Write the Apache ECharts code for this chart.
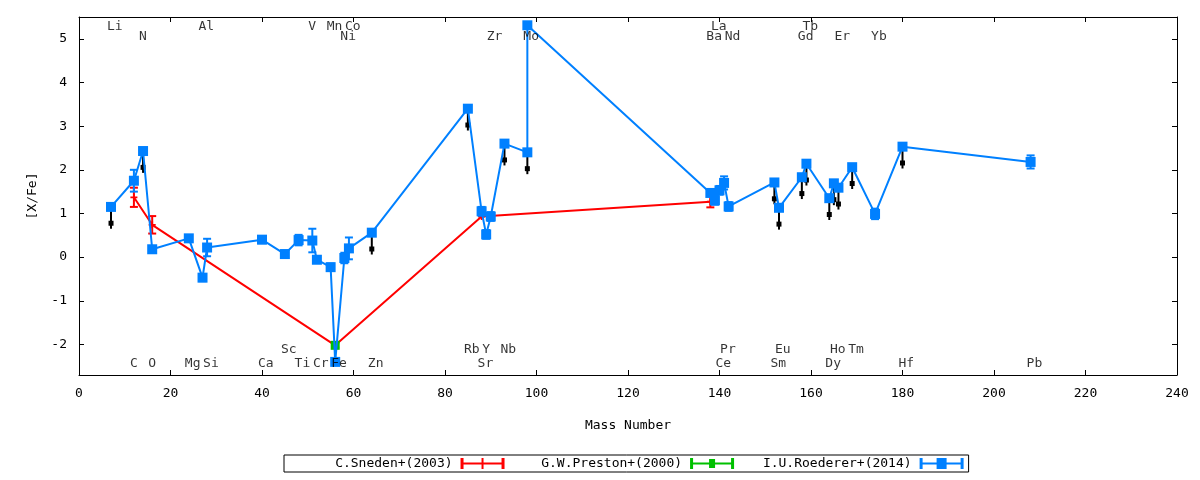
<!DOCTYPE html>
<html>
<head>
<meta charset="utf-8">
<script src="https://cdn.jsdelivr.net/npm/echarts@6/dist/echarts.min.js"></script>
<style>
html,body{margin:0;padding:0;background:#fff;}
#chart{width:1200px;height:480px;}
</style>
</head>
<body>
<div id="chart"></div>
<script>
// ---------- data ----------
// I.U.Roederer+(2014)
const blueMass = [7,12,14,16,24,27,28,40,45,48,51,52,55,56,58,59,64,85,88,89,90,93,98,98,138,139,140,141,142,152,153,158,159,164,165,166,169,174,180,208];
const blueVal  = [1.15,1.75,2.43,0.18,0.43,-0.47,0.22,0.40,0.07,0.39,0.38,-0.06,-0.23,-2.40,-0.02,0.20,0.56,3.40,1.05,0.52,0.93,2.60,2.40,5.31,1.47,1.30,1.53,1.70,1.16,1.71,1.13,1.83,2.14,1.35,1.69,1.59,2.06,0.99,2.53,2.18];
const blueErr  = [0,0.25,0,0.05,0.07,0.08,0.20,0.08,0.08,0.12,0.27,0.05,0.08,0.05,0.12,0.25,0,0,0.10,0.10,0.10,0,0,0,0.05,0.10,0.10,0.15,0.10,0,0,0,0,0,0,0,0,0.12,0,0.15];
const blueUpperLimit = [1,0,1,0,0,0,0,0,0,0,0,0,0,0,0,0,1,1,0,0,0,1,1,0,0,0,0,0,0,1,1,1,1,1,1,1,1,0,1,0];
// C.Sneden+(2003)
const redMass = [12,16,56,88,138];
const redVal  = [1.37,0.74,-2.02,0.93,1.27];
const redErr  = [0.22,0.20,0,0,0.13];
// G.W.Preston+(2000)
const greenMass = [56];
const greenVal  = [-2.02];
const greenErr  = [0.05];
// element labels: name, mass number, row (0,1 = top rows; 2,3 = bottom rows)
const elemNames  = ['Li','Al','V','Mn','Co','La','Tb',
                    'N','Ni','Zr','Mo','Ba','Nd','Gd','Er','Yb',
                    'Sc','Rb','Y','Nb','Pr','Eu','Ho','Tm',
                    'C','O','Mg','Si','Ca','Ti','Cr','Fe','Zn','Sr','Ce','Sm','Dy','Hf','Pb'];
const elemMass   = [7,27,51,55,59,139,159,
                    14,58,90,98,138,142,158,166,174,
                    45,85,89,93,141,153,165,169,
                    12,16,24,28,40,48,52,56,64,88,140,152,164,180,208];
const elemRow    = [0,0,0,0,0,0,0,
                    1,1,1,1,1,1,1,1,1,
                    2,2,2,2,2,2,2,2,
                    3,3,3,3,3,3,3,3,3,3,3,3,3,3,3];
const xTicks = {min:0, max:240, step:20};
const yRange = {min:-2.7, max:5.5};
const seriesNames = ['C.Sneden+(2003)','G.W.Preston+(2000)','I.U.Roederer+(2014)'];

// ---------- style constants ----------
const FONT = '"DejaVu Sans Mono", "Liberation Mono", monospace';
const RED = '#ff0000', GREEN = '#00c000', BLUE = '#0080ff';
const ROW_Y = [5.27, 5.04, -2.13, -2.45];   // label row placement (axis units)
const LIMIT_ARROW = 0.5;                     // length of upper-limit arrows

const pairs = (m, v) => m.map((x, i) => [x, v[i]]);
const errData = (m, v, e) => m.map((x, i) => [x, v[i], e[i]]).filter(d => d[2] > 0);

function errRender(color) {
  return function (params, api) {
    const x = api.value(0), v = api.value(1), e = api.value(2);
    const t = api.coord([x, v + e]), b = api.coord([x, v - e]);
    const hw = 4;
    const style = {stroke: color, lineWidth: 2};
    return {type: 'group', children: [
      {type: 'line', shape: {x1: t[0], y1: t[1], x2: b[0], y2: b[1]}, style},
      {type: 'line', shape: {x1: t[0] - hw, y1: t[1], x2: t[0] + hw, y2: t[1]}, style},
      {type: 'line', shape: {x1: b[0] - hw, y1: b[1], x2: b[0] + hw, y2: b[1]}, style}
    ]};
  };
}
function arrowRender(params, api) {
  const x = api.value(0), v = api.value(1);
  const s = api.coord([x, v]), e = api.coord([x, v - LIMIT_ARROW]);
  return {type: 'group', children: [
    {type: 'line', shape: {x1: s[0], y1: s[1], x2: e[0], y2: e[1]}, style: {stroke: '#000', lineWidth: 2}},
    {type: 'rect', shape: {x: e[0] - 2.5, y: e[1] - 8, width: 5, height: 5}, style: {fill: '#000'}}
  ]};
}

const limitData = blueMass.map((x, i) => [x, blueVal[i]]).filter((d, i) => blueUpperLimit[i]);
const labelData = elemNames.map((n, i) => ({value: [elemMass[i], ROW_Y[elemRow[i]]], name: n}));

const plusPath = 'path://M3,0h2v8h-2z M0,3h8v2h-8z';
const iconRed   = 'path://M0,0h3v11h-3z M0,4.5h44v2h-44z M41,0h3v11h-3z M21,0h2v11h-2z';
const iconGreen = 'path://M0,0h3v11h-3z M0,4.5h44v2h-44z M41,0h3v11h-3z M19,1h6v9h-6z';
const iconBlue  = 'path://M0,0h3v11h-3z M0,4.5h44v2h-44z M41,0h3v11h-3z M17,0h10v11h-10z';

const axisCommon = {
  axisLine: {show: true, onZero: false, lineStyle: {color: '#000', width: 1}},
  axisTick: {show: true, inside: true, length: 5, lineStyle: {color: '#000'}},
  splitLine: {show: false}
};
const labelStyle = {color: '#000', fontFamily: FONT, fontSize: 13};

const chart = echarts.init(document.getElementById('chart'), null, {renderer: 'canvas'});
chart.setOption({
  animation: false,
  backgroundColor: '#fff',
  textStyle: {fontFamily: FONT},
  grid: {left: 79, right: 23, top: 17, bottom: 105, containLabel: false},
  xAxis: [
    Object.assign({type: 'value', position: 'bottom', min: xTicks.min, max: xTicks.max, interval: xTicks.step,
      axisLabel: Object.assign({margin: 12}, labelStyle),
      name: 'Mass Number', nameLocation: 'middle', nameGap: 44, nameTextStyle: labelStyle}, axisCommon),
    Object.assign({type: 'value', position: 'top', min: xTicks.min, max: xTicks.max, interval: xTicks.step,
      axisLabel: {show: false}}, axisCommon)
  ],
  yAxis: [
    Object.assign({type: 'value', position: 'left', min: yRange.min, max: yRange.max, splitNumber: 8,
      axisLabel: Object.assign({margin: 12, showMinLabel: false, showMaxLabel: false}, labelStyle),
      name: '[X/Fe]', nameLocation: 'middle', nameGap: 40, nameRotate: 90, nameTextStyle: labelStyle}, axisCommon),
    Object.assign({type: 'value', position: 'right', min: yRange.min, max: yRange.max, splitNumber: 8,
      axisLabel: {show: false}}, axisCommon)
  ],
  legend: {
    left: 284, top: 455,
    orient: 'horizontal',
    align: 'right',
    itemWidth: 44, itemHeight: 11, itemGap: 21,
    padding: [2, 5, 2, 12],
    borderColor: '#000', borderWidth: 1,
    selectedMode: false,
    formatter: name => name.padStart(20, ' '),
    textStyle: {color: '#000', fontFamily: FONT, fontSize: 13, padding: [0, 3, 0, 0]},
    data: [
      {name: seriesNames[0], icon: iconRed, itemStyle: {color: RED}},
      {name: seriesNames[1], icon: iconGreen, itemStyle: {color: GREEN}},
      {name: seriesNames[2], icon: iconBlue, itemStyle: {color: BLUE}}
    ]
  },
  series: [
    {name: seriesNames[0], type: 'line', data: pairs(redMass, redVal), color: RED,
      lineStyle: {color: RED, width: 2}, symbol: plusPath, symbolSize: 7, itemStyle: {color: RED}, z: 2},
    {name: seriesNames[0] + ' err', type: 'custom', data: errData(redMass, redVal, redErr),
      renderItem: errRender(RED), z: 2, silent: true},
    {name: seriesNames[1], type: 'line', data: pairs(greenMass, greenVal), color: GREEN,
      lineStyle: {color: GREEN, width: 2}, symbol: 'rect', symbolSize: 9, itemStyle: {color: GREEN}, z: 3},
    {name: seriesNames[1] + ' err', type: 'custom', data: errData(greenMass, greenVal, greenErr),
      renderItem: errRender(GREEN), z: 3, silent: true},
    {name: 'upper limits', type: 'custom', data: limitData, renderItem: arrowRender, z: 3, silent: true},
    {name: seriesNames[2] + ' err', type: 'custom', data: errData(blueMass, blueVal, blueErr),
      renderItem: errRender(BLUE), z: 4, silent: true},
    {name: seriesNames[2], type: 'line', data: pairs(blueMass, blueVal), color: BLUE,
      lineStyle: {color: BLUE, width: 2}, symbol: 'rect', symbolSize: 10, itemStyle: {color: BLUE}, z: 5},
    {name: 'elements', type: 'scatter', data: labelData, symbolSize: 0, silent: true, z: 6,
      label: {show: true, position: 'inside', align: 'left', verticalAlign: 'middle', offset: [-4, 0],
        formatter: p => p.name, color: '#000', fontFamily: FONT, fontSize: 13}}
  ]
});
</script>
</body>
</html>
